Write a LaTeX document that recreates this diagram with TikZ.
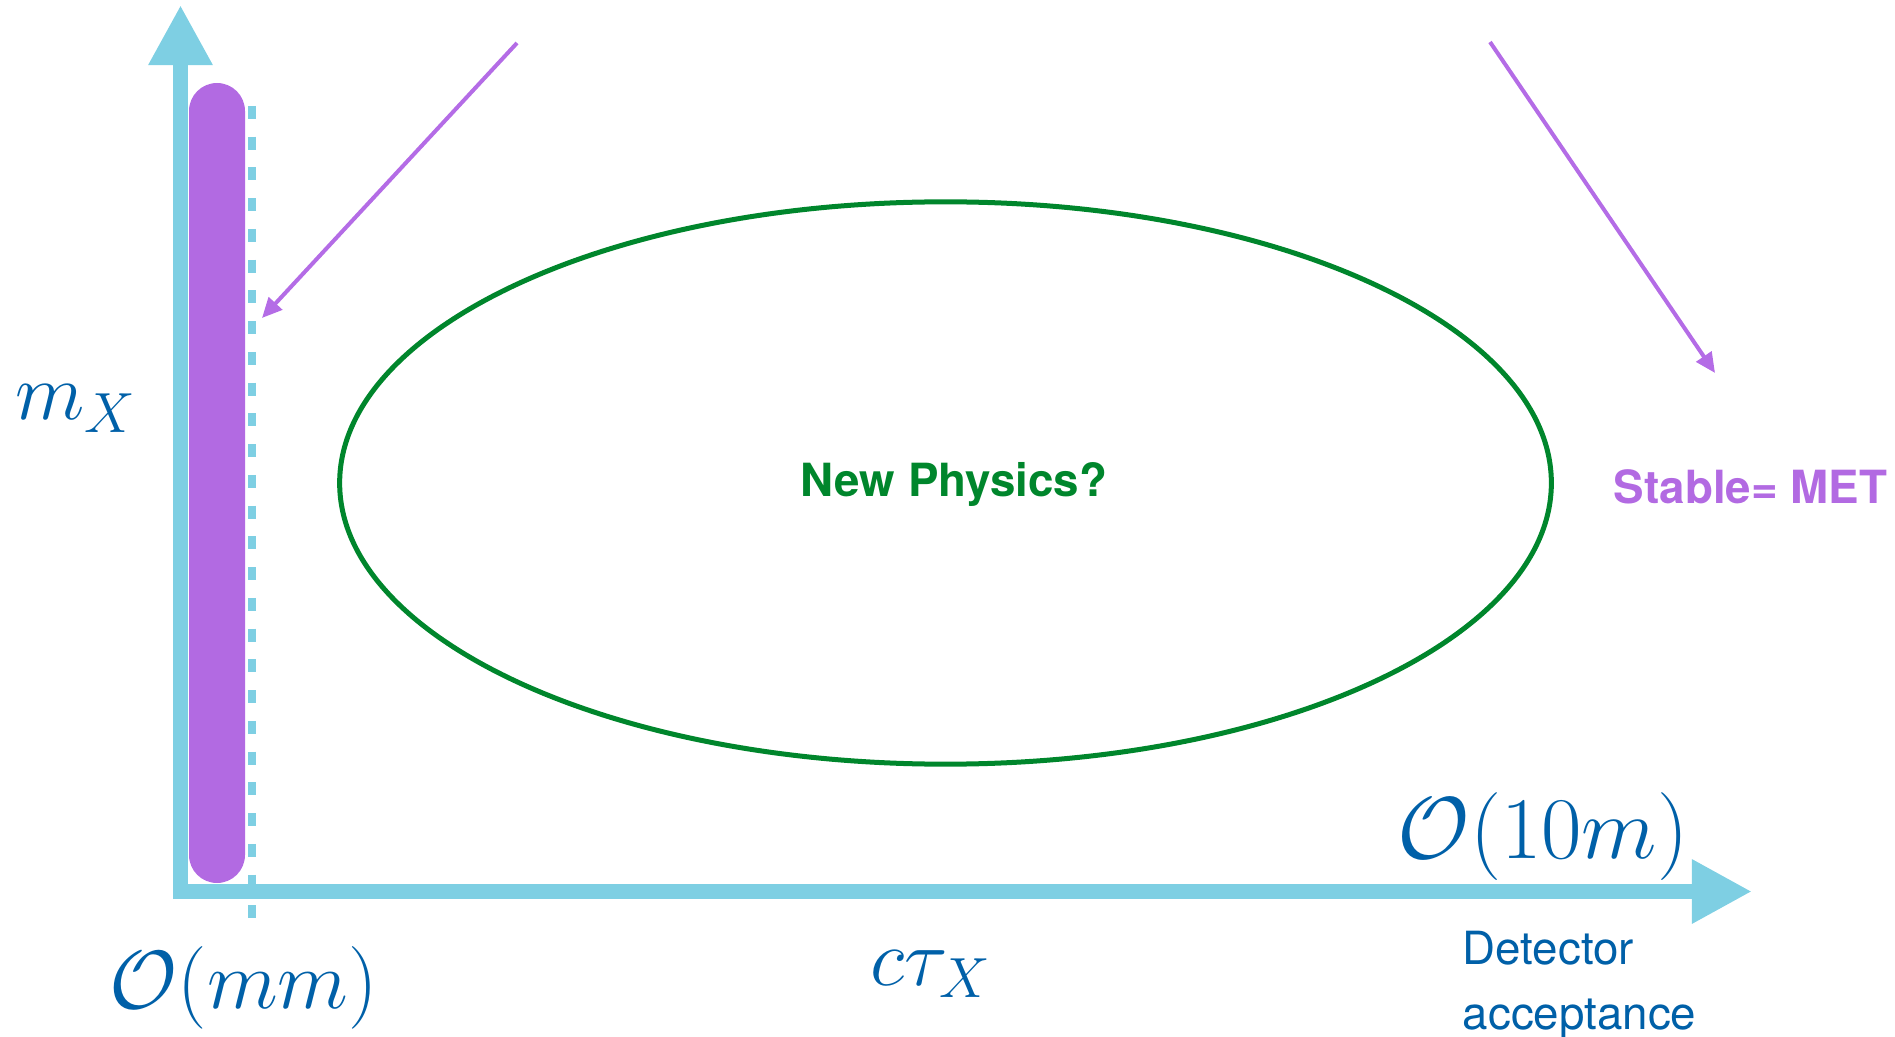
\RequirePackage{fix-cm}
\documentclass[tikz,border=0pt]{standalone}
\usepackage{fontspec}
\usepackage{amsmath}
\usetikzlibrary{arrows.meta,shapes.geometric}
\newfontfamily\labelsans{TeX Gyre Heros}
\definecolor{axisblue}{RGB}{126,207,227}
\definecolor{barpurple}{RGB}{178,106,226}
\definecolor{pointpurple}{RGB}{180,108,230}
\definecolor{npgreen}{RGB}{0,134,44}
\definecolor{labelblue}{RGB}{0,96,168}

\begin{document}
\begin{tikzpicture}[
  x=0.01cm, y=-0.01cm,
  axis/.style={draw=axisblue, line width=0.15cm, -{Triangle[length=0.6cm, width=0.6cm]}},
  pointer/.style={draw=pointpurple, line width=0.04cm, -{Triangle[length=0.2cm, width=0.18cm]}},
  mathlabel/.style={text=labelblue, inner sep=0pt, font=\fontsize{23}{27}\selectfont},
  scalelabel/.style={text=labelblue, inner sep=0pt, font=\fontsize{23.5}{28}\selectfont},
  sanslabel/.style={text=labelblue, inner sep=0pt, align=left, font=\labelsans\fontsize{13}{18.5}\selectfont},
  region/.style={ellipse, draw=npgreen, line width=0.05cm,
    minimum width=12.11cm, minimum height=5.62cm},
  nplabel/.style={text=npgreen, inner sep=0pt, font=\labelsans\bfseries\fontsize{13}{16}\selectfont},
  stablelabel/.style={text=barpurple, inner sep=0pt, font=\labelsans\bfseries\fontsize{13}{16}\selectfont}
]
\useasboundingbox (0,0) rectangle (1895,1037);

% prompt band and detector edge
\fill[barpurple, rounded corners=0.28cm] (189,83) rectangle (245,883);
\draw[axisblue, line width=0.08cm, dash pattern=on 0.13cm off 0.1773cm] (252,106) -- (252,918);

% axes
\draw[axis] (180.5,899) -- (180.5,5);
\draw[axis] (173,891.5) -- (1752,891.5);

\node[mathlabel, anchor=base west] (mass) at (15,420) {$m_X$};
\node[mathlabel, anchor=base west] (ctau) at (870,985) {$c\tau_X$};
\node[scalelabel, anchor=base west] (mm) at (109,1008) {$\mathcal{O}(mm)$};
\node[scalelabel, anchor=base west, font=\fontsize{25}{30}\selectfont] (tenm) at (1397,858) {$\mathcal{O}(10m)$};
\node[sanslabel, anchor=north west] (accept) at (1462,930) {Detector\\acceptance};

\node[region] (np) at (945.5,483) {};
\node[nplabel, anchor=base] (nptext) at (954,497) {New Physics?};
\node[stablelabel, anchor=base west] (stable) at (1613,503) {Stable= MET};

% pointers
\coordinate (promptfrom) at (517,43);
\coordinate (promptto) at (262,318);
\coordinate (stablefrom) at (1490,42);
\coordinate (stableto) at (1715,373);
\draw[pointer] (promptfrom) -- (promptto);
\draw[pointer] (stablefrom) -- (stableto);
\end{tikzpicture}
\end{document}
